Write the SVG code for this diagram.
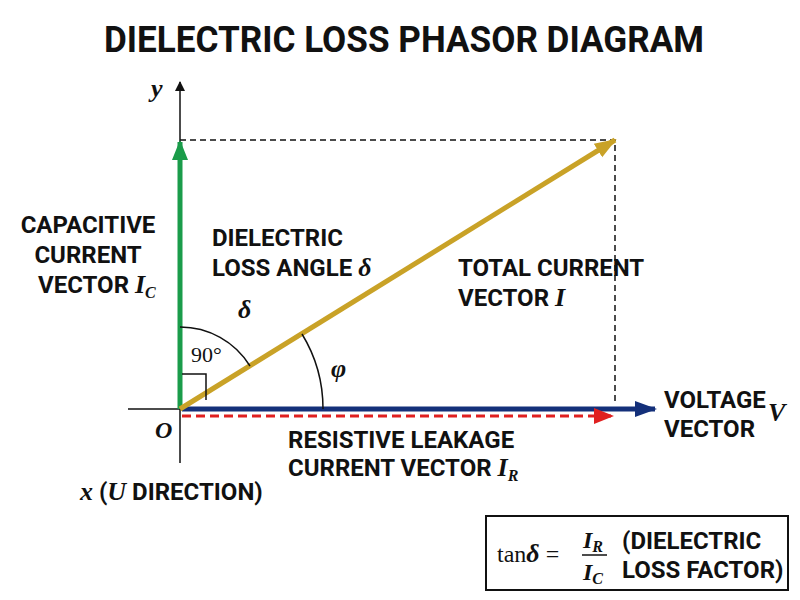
<svg xmlns="http://www.w3.org/2000/svg" width="800" height="600" viewBox="0 0 800 600">
<defs>
<style>
.t{font-family:"Roboto","Liberation Sans",sans-serif;font-weight:bold;fill:#111;}
.m{font-family:"Liberation Serif","DejaVu Serif",serif;font-style:italic;font-weight:bold;fill:#111;}
.s{font-family:"Liberation Serif","DejaVu Serif",serif;fill:#111;}
</style>
<marker id="ak" markerWidth="10" markerHeight="10" refX="9" refY="5" orient="auto" markerUnits="userSpaceOnUse"><path d="M0,0 L10,5 L0,10 Z" fill="#111"/></marker>
<marker id="ag" markerWidth="20" markerHeight="20" refX="18" refY="10" orient="auto" markerUnits="userSpaceOnUse"><path d="M0,2 L20,10 L0,18 Z" fill="#1a9c4a"/></marker>
<marker id="ay" markerWidth="22" markerHeight="20" refX="20" refY="10" orient="auto" markerUnits="userSpaceOnUse"><path d="M0,2 L22,10 L0,18 Z" fill="#c9a227"/></marker>
<marker id="ab" markerWidth="22" markerHeight="20" refX="20" refY="10" orient="auto" markerUnits="userSpaceOnUse"><path d="M0,2 L22,10 L0,18 Z" fill="#14307a"/></marker>
<marker id="ar" markerWidth="20" markerHeight="20" refX="18" refY="10" orient="auto" markerUnits="userSpaceOnUse"><path d="M0,2 L20,10 L0,18 Z" fill="#e02020"/></marker>
</defs>
<rect width="800" height="600" fill="#fff"/>
<text class="t" x="404" y="52" font-size="36" text-anchor="middle" textLength="600" lengthAdjust="spacingAndGlyphs">DIELECTRIC LOSS PHASOR DIAGRAM</text>
<g id="connectors">
<line x1="180" y1="463" x2="180" y2="82" stroke="#111" stroke-width="1.5" marker-end="url(#ak)"/>
<line x1="128" y1="409" x2="200" y2="409" stroke="#111" stroke-width="1.5"/>
<path d="M180,140 H615 V405" fill="none" stroke="#111" stroke-width="1.5" stroke-dasharray="6,4"/>
<line x1="180" y1="409" x2="180" y2="142" stroke="#1a9c4a" stroke-width="5" marker-end="url(#ag)"/>
<line x1="182" y1="409" x2="655" y2="409" stroke="#14307a" stroke-width="5" marker-end="url(#ab)"/>
<line x1="182" y1="416" x2="612" y2="416" stroke="#e02020" stroke-width="3" stroke-dasharray="9,5" marker-end="url(#ar)"/>
<line x1="180" y1="409" x2="615" y2="140" stroke="#c9a227" stroke-width="5" marker-end="url(#ay)"/>
<path d="M180,327 A82,82 0 0 1 250,366" fill="none" stroke="#111" stroke-width="1.5"/>
<path d="M302,334 A143,143 0 0 1 323,409" fill="none" stroke="#111" stroke-width="1.5"/>
<path d="M182,374 H206 V400" fill="none" stroke="#111" stroke-width="1.5"/>
</g>
<g id="labels">
<text class="m" x="151" y="97" font-size="26">y</text>
<text class="m" x="155" y="438" font-size="24">O</text>
<text class="s" x="191" y="362" font-size="22">90°</text>
<text class="m" x="238" y="318" font-size="26">δ</text>
<text class="m" x="331" y="377" font-size="26">φ</text>
</g>
<g id="capacitive"><text class="t" font-size="24" text-anchor="middle"><tspan x="88" y="233">CAPACITIVE</tspan><tspan x="88" y="263">CURRENT</tspan></text><text class="t" x="38" y="293" font-size="24">VECTOR <tspan class="m" font-size="26">I</tspan><tspan class="m" font-size="16" dy="5">C</tspan></text></g>
<g id="dielectric-angle"><text class="t" font-size="24"><tspan x="212" y="246">DIELECTRIC</tspan><tspan x="212" y="276">LOSS ANGLE <tspan class="m" font-size="26">δ</tspan></tspan></text></g>
<g id="total"><text class="t" font-size="24"><tspan x="458" y="276">TOTAL CURRENT</tspan><tspan x="458" y="306">VECTOR <tspan class="m" font-size="26">I</tspan></tspan></text></g>
<g id="voltage"><text class="t" font-size="24"><tspan x="664" y="408">VOLTAGE</tspan><tspan x="664" y="437">VECTOR</tspan></text><text class="m" x="768" y="421" font-size="26">V</text></g>
<g id="resistive"><text class="t" font-size="24"><tspan x="288" y="448">RESISTIVE LEAKAGE</tspan><tspan x="288" y="476">CURRENT VECTOR <tspan class="m" font-size="26">I</tspan><tspan class="m" font-size="16" dy="5">R</tspan></tspan></text></g>
<g id="xlabel"><text x="80" y="500" font-size="24"><tspan class="m" font-size="26">x</tspan><tspan class="t"> (</tspan><tspan class="m" font-size="26">U</tspan><tspan class="t"> DIRECTION)</tspan></text></g>
<g id="formula">
<rect x="486" y="516" width="302" height="74" fill="#fff" stroke="#111" stroke-width="2"/>
<text x="497" y="562" font-size="24"><tspan class="s">tan</tspan><tspan class="m" font-size="26">δ</tspan><tspan class="s"> =</tspan></text>
<text class="m" x="583" y="548" font-size="24">I<tspan font-size="16" dy="4">R</tspan></text>
<line x1="582" y1="555" x2="607" y2="555" stroke="#111" stroke-width="1.5"/>
<text class="m" x="583" y="580" font-size="24">I<tspan font-size="16" dy="4">C</tspan></text>
<text class="t" font-size="24"><tspan x="622" y="549">(DIELECTRIC</tspan><tspan x="622" y="578">LOSS FACTOR)</tspan></text>
</g>
</svg>
